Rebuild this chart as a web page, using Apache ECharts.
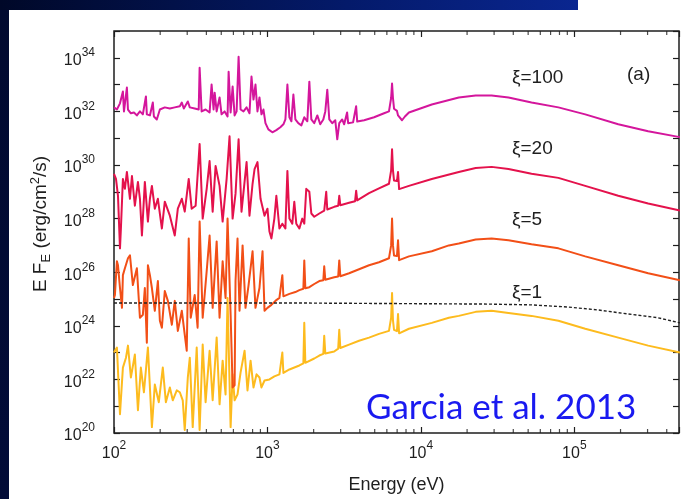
<!DOCTYPE html>
<html><head><meta charset="utf-8">
<script src="https://cdn.jsdelivr.net/npm/echarts@6/dist/echarts.min.js"></script>
<style>html,body{margin:0;padding:0;background:#fff}#c{width:682px;height:499px}</style>
</head><body><div id="c"></div>
<script>
// All values are log10: x = log10(Energy / eV), y = log10(E F_E / erg cm^-2 s^-1)
const xRange = [2, 5.682];
const yRange = [20, 35];
const minorMultipliers = [2, 3, 4, 5, 6, 7, 8, 9];
const xDecades = [2, 3, 4, 5];
const seriesNames = ['ξ=1', 'ξ=5', 'ξ=20', 'ξ=100'];

const xi100 = [[2.000,32.15],[2.019,32.07],[2.039,32.30],[2.058,32.74],[2.065,32.00],[2.084,32.89],[2.091,32.07],[2.110,31.93],[2.130,31.96],[2.149,31.85],[2.169,32.00],[2.188,31.89],[2.208,32.56],[2.214,31.89],[2.234,31.85],[2.253,32.33],[2.260,31.81],[2.279,31.70],[2.299,32.07],[2.331,32.15],[2.364,32.11],[2.396,32.15],[2.429,32.19],[2.442,32.33],[2.455,32.11],[2.481,32.37],[2.494,32.15],[2.526,32.11],[2.552,32.07],[2.558,33.63],[2.571,32.00],[2.597,32.07],[2.623,31.96],[2.636,33.00],[2.649,32.07],[2.656,32.70],[2.669,32.00],[2.688,32.52],[2.701,31.89],[2.721,32.00],[2.740,31.81],[2.747,33.48],[2.760,31.96],[2.773,32.93],[2.786,31.85],[2.799,32.00],[2.812,34.04],[2.825,32.07],[2.844,32.00],[2.864,32.15],[2.883,31.93],[2.896,33.30],[2.909,32.44],[2.922,33.00],[2.935,32.00],[2.948,32.52],[2.961,31.89],[2.974,32.07],[2.987,31.56],[3.006,31.33],[3.032,31.22],[3.058,31.30],[3.084,31.41],[3.104,31.52],[3.117,31.70],[3.130,33.00],[3.143,31.78],[3.156,31.63],[3.169,32.63],[3.182,31.70],[3.201,31.56],[3.221,31.48],[3.240,31.78],[3.260,31.63],[3.273,33.11],[3.286,31.70],[3.305,31.56],[3.325,31.85],[3.344,31.52],[3.364,31.70],[3.377,32.00],[3.390,32.81],[3.403,31.70],[3.422,31.56],[3.442,31.67],[3.455,30.96],[3.468,31.56],[3.487,31.70],[3.500,31.52],[3.513,31.55],[3.519,31.96],[3.526,31.56],[3.558,31.59],[3.571,31.61],[3.578,32.19],[3.585,31.62],[3.630,31.67],[3.695,31.78],[3.760,31.93],[3.792,32.00],[3.800,32.05],[3.806,32.50],[3.812,33.04],[3.818,32.50],[3.825,32.10],[3.844,32.02],[3.851,31.85],[3.877,31.67],[3.896,31.81],[3.922,31.96],[4.071,32.26],[4.247,32.52],[4.357,32.59],[4.461,32.59],[4.571,32.52],[4.721,32.33],[4.896,32.15],[5.071,31.89],[5.286,31.52],[5.481,31.26],[5.688,31.04]];

const xi20 = [[2.000,29.67],[2.013,29.48],[2.026,28.85],[2.039,26.89],[2.045,27.63],[2.058,29.48],[2.071,29.11],[2.084,29.74],[2.104,28.74],[2.117,29.59],[2.136,28.48],[2.156,29.37],[2.169,28.74],[2.182,27.37],[2.201,29.37],[2.221,27.89],[2.234,28.74],[2.247,29.22],[2.266,28.37],[2.286,28.74],[2.312,27.63],[2.331,28.63],[2.364,28.11],[2.396,27.37],[2.416,28.37],[2.442,28.74],[2.461,28.26],[2.487,29.48],[2.506,28.37],[2.532,28.48],[2.558,30.78],[2.578,28.00],[2.604,29.11],[2.623,30.15],[2.643,28.26],[2.662,29.96],[2.688,29.22],[2.708,27.89],[2.734,29.48],[2.753,31.07],[2.773,28.00],[2.792,28.93],[2.812,30.96],[2.831,28.26],[2.864,30.11],[2.883,28.11],[2.903,29.30],[2.916,29.85],[2.935,30.11],[2.955,28.74],[2.981,28.11],[3.000,28.37],[3.013,27.52],[3.026,27.26],[3.045,28.00],[3.058,28.85],[3.078,27.63],[3.097,27.81],[3.117,27.63],[3.130,29.78],[3.143,28.00],[3.162,27.81],[3.175,28.63],[3.188,27.81],[3.208,27.63],[3.227,28.00],[3.240,27.81],[3.253,29.11],[3.273,29.00],[3.286,28.19],[3.305,28.07],[3.318,28.11],[3.338,28.19],[3.370,28.30],[3.377,28.32],[3.383,29.00],[3.390,28.34],[3.435,28.44],[3.461,28.48],[3.468,28.85],[3.475,28.50],[3.532,28.59],[3.571,28.65],[3.578,29.04],[3.585,28.68],[3.662,28.95],[3.727,29.13],[3.792,29.30],[3.800,29.35],[3.806,29.80],[3.812,30.59],[3.818,29.80],[3.825,29.42],[3.844,29.40],[3.851,29.74],[3.858,29.10],[3.870,29.04],[3.922,29.22],[4.071,29.48],[4.247,29.74],[4.357,29.89],[4.461,29.93],[4.571,29.85],[4.721,29.67],[4.896,29.52],[5.071,29.22],[5.286,28.85],[5.481,28.56],[5.688,28.30]];

const xi5 = [[2.000,25.04],[2.006,25.15],[2.019,26.41],[2.026,26.26],[2.039,25.41],[2.052,24.67],[2.058,25.89],[2.071,26.15],[2.091,26.52],[2.104,26.63],[2.123,25.52],[2.149,26.15],[2.169,24.30],[2.188,24.41],[2.201,25.41],[2.214,23.37],[2.221,26.26],[2.234,25.89],[2.247,25.41],[2.266,24.56],[2.286,25.67],[2.299,24.19],[2.312,23.93],[2.331,25.30],[2.351,24.93],[2.377,24.04],[2.396,24.93],[2.416,23.81],[2.442,24.56],[2.461,23.67],[2.474,23.07],[2.487,27.26],[2.500,24.30],[2.526,25.15],[2.545,23.93],[2.558,27.89],[2.578,24.30],[2.604,26.04],[2.623,27.37],[2.643,24.67],[2.669,27.15],[2.688,24.30],[2.708,26.41],[2.727,25.04],[2.740,28.00],[2.760,24.41],[2.773,21.70],[2.786,21.78],[2.792,25.67],[2.805,27.26],[2.818,24.56],[2.838,27.00],[2.857,24.67],[2.877,25.52],[2.903,26.78],[2.922,24.67],[2.948,25.41],[2.968,26.78],[2.981,24.56],[3.000,24.67],[3.026,24.78],[3.058,24.96],[3.078,25.04],[3.091,25.08],[3.097,25.89],[3.104,25.10],[3.143,25.19],[3.182,25.26],[3.208,25.33],[3.234,25.38],[3.240,26.44],[3.247,25.40],[3.273,25.44],[3.305,25.56],[3.338,25.67],[3.364,25.70],[3.370,26.22],[3.377,25.72],[3.435,25.81],[3.461,25.84],[3.468,26.44],[3.475,25.85],[3.532,25.96],[3.597,26.11],[3.662,26.26],[3.727,26.37],[3.792,26.52],[3.800,26.56],[3.806,27.00],[3.812,28.00],[3.818,27.00],[3.825,26.62],[3.844,26.60],[3.851,27.19],[3.858,26.45],[3.870,26.44],[3.922,26.59],[4.071,26.78],[4.182,27.00],[4.247,27.07],[4.357,27.22],[4.461,27.26],[4.571,27.19],[4.721,27.04],[4.896,26.89],[5.071,26.59],[5.286,26.26],[5.481,25.96],[5.688,25.70]];

const xi1 = [[2.000,23.00],[2.019,23.19],[2.039,20.70],[2.058,22.44],[2.078,22.81],[2.091,23.26],[2.110,22.07],[2.136,22.93],[2.156,20.85],[2.175,22.44],[2.195,21.52],[2.221,23.19],[2.247,20.22],[2.266,21.81],[2.292,21.15],[2.318,22.44],[2.338,21.15],[2.364,21.70],[2.383,21.22],[2.409,21.59],[2.429,21.52],[2.448,21.22],[2.461,20.11],[2.481,22.07],[2.494,22.81],[2.513,20.22],[2.539,23.19],[2.558,20.11],[2.578,23.30],[2.597,21.15],[2.623,23.07],[2.643,21.22],[2.669,23.56],[2.688,21.07],[2.708,22.70],[2.727,21.44],[2.740,25.04],[2.760,20.22],[2.773,22.19],[2.786,21.22],[2.805,21.44],[2.825,22.26],[2.851,23.07],[2.870,21.59],[2.890,22.70],[2.909,21.70],[2.929,22.19],[2.948,22.07],[2.961,21.70],[2.981,21.96],[3.013,22.00],[3.045,22.11],[3.078,22.19],[3.091,22.22],[3.097,23.00],[3.104,22.24],[3.143,22.37],[3.208,22.52],[3.234,22.60],[3.240,24.11],[3.247,22.62],[3.305,22.78],[3.338,22.89],[3.364,22.95],[3.370,23.63],[3.377,22.97],[3.435,23.04],[3.461,23.15],[3.468,23.85],[3.475,23.17],[3.532,23.30],[3.597,23.44],[3.662,23.56],[3.727,23.70],[3.792,23.81],[3.800,23.85],[3.806,24.30],[3.812,25.22],[3.818,24.20],[3.825,23.85],[3.844,23.80],[3.851,24.44],[3.858,23.72],[3.870,23.74],[3.922,23.89],[4.071,24.11],[4.182,24.30],[4.247,24.37],[4.357,24.52],[4.461,24.56],[4.571,24.48],[4.721,24.37],[4.896,24.19],[5.071,23.89],[5.286,23.56],[5.481,23.26],[5.688,23.00]];

const illumination = [[2.000,24.85],[3.208,24.85],[4.442,24.81],[4.721,24.78],[4.961,24.70],[5.156,24.59],[5.351,24.44],[5.545,24.30],[5.688,24.11]];

const minorTicks = [];
xDecades.forEach(d => minorMultipliers.forEach(m => {
  const v = d + Math.log10(m);
  if (v < xRange[1]) minorTicks.push(v);
}));

const FONT = '"Liberation Sans", Arial, Helvetica, sans-serif';
const INK = '#1e1e1e';
const richPow = {
  b: {fontSize: 16, fontFamily: FONT, color: INK, lineHeight: 22, verticalAlign: 'bottom'},
  s: {fontSize: 12, fontFamily: FONT, color: INK, lineHeight: 12, verticalAlign: 'top'}
};

const chart = echarts.init(document.getElementById('c'), null, {renderer: 'canvas'});

function spec(data, color, z) {
  return {type: 'line', data: data, symbol: 'none', showSymbol: false, silent: true,
    lineStyle: {color: color, width: 2, join: 'round'}, z: z, animation: false};
}

const tickStyle = {inside: true, length: 6, lineStyle: {color: INK, width: 1.2}};

chart.setOption({
  backgroundColor: '#ffffff',
  animation: false,
  grid: {left: 114, right: 1, top: 31, bottom: 63, show: true, borderColor: INK, borderWidth: 1.5, backgroundColor: 'transparent'},
  xAxis: [
    {type: 'value', min: xRange[0], max: xRange[1], interval: 1, position: 'bottom',
      axisLine: {show: false}, splitLine: {show: false}, axisTick: tickStyle,
      axisLabel: {margin: 7, formatter: v => Number.isInteger(v) ? '{b|10}{s|' + v + '}' : '', rich: richPow},
      name: 'Energy (eV)', nameLocation: 'middle', nameGap: 43,
      nameTextStyle: {fontSize: 18, fontFamily: FONT, color: INK}},
    {type: 'value', min: xRange[0], max: xRange[1], interval: 1, position: 'top',
      axisLine: {show: false}, splitLine: {show: false}, axisTick: tickStyle, axisLabel: {show: false}}
  ],
  yAxis: [
    {type: 'value', min: yRange[0], max: yRange[1], interval: 1, position: 'left',
      axisLine: {show: false}, splitLine: {show: false}, axisTick: tickStyle,
      axisLabel: {margin: 19, formatter: v => (v % 2 === 0 && v < 35) ? '{b|10}{s|' + v + '}' : '', rich: richPow},
      name: '{n|E F}{sb|E}{n| (erg/cm}{sp|2}{n|/s)}', nameLocation: 'middle', nameGap: 50,
      nameTextStyle: {padding: [0, 0, 0, 16], rich: {
        n: {fontSize: 19, fontFamily: FONT, color: INK, lineHeight: 24, verticalAlign: 'middle'},
        sb: {fontSize: 13, fontFamily: FONT, color: INK, lineHeight: 24, verticalAlign: 'bottom'},
        sp: {fontSize: 13, fontFamily: FONT, color: INK, lineHeight: 13, verticalAlign: 'top'}
      }}},
    {type: 'value', min: yRange[0], max: yRange[1], interval: 1, position: 'right',
      axisLine: {show: false}, splitLine: {show: false}, axisTick: tickStyle, axisLabel: {show: false}}
  ],
  series: [
    spec(xi1, '#fdbb1e', 2),
    spec(xi5, '#f24f17', 3),
    spec(xi20, '#e4124c', 4),
    spec(xi100, '#d4169c', 5),
    {type: 'line', data: illumination, symbol: 'none', silent: true, z: 6,
      lineStyle: {color: '#222', width: 1.4, type: [3, 2]}},
    {type: 'scatter', data: minorTicks.map(v => [v, yRange[0]]), symbol: 'rect', symbolSize: [1.2, 4],
      symbolOffset: [0, -2], itemStyle: {color: INK}, silent: true, clip: false, z: 7},
    {type: 'scatter', data: minorTicks.map(v => [v, yRange[1]]), symbol: 'rect', symbolSize: [1.2, 4],
      symbolOffset: [0, 2], itemStyle: {color: INK}, silent: true, clip: false, z: 7}
  ],
  graphic: [
    {type: 'rect', shape: {x: 0, y: 0, width: 9, height: 499}, silent: true, z: 100,
      style: {fill: new echarts.graphic.LinearGradient(0, 0, 0, 1, [{offset: 0, color: '#010a30'}, {offset: 1, color: '#020c38'}])}},
    {type: 'rect', shape: {x: 0, y: 0, width: 578, height: 10}, silent: true, z: 100,
      style: {fill: new echarts.graphic.LinearGradient(0, 0, 1, 0, [{offset: 0, color: '#000828'}, {offset: 0.6, color: '#041a6a'}, {offset: 1, color: '#0a2690'}])}},
    {type: 'text', left: 512, top: 68, z: 50, style: {text: seriesNames[3], font: '19px ' + FONT, fill: INK}},
    {type: 'text', left: 512, top: 139, z: 50, style: {text: seriesNames[2], font: '19px ' + FONT, fill: INK}},
    {type: 'text', left: 512, top: 210, z: 50, style: {text: seriesNames[1], font: '19px ' + FONT, fill: INK}},
    {type: 'text', left: 512, top: 283, z: 50, style: {text: seriesNames[0], font: '19px ' + FONT, fill: INK}},
    {type: 'text', left: 627, top: 65, z: 50, style: {text: '(a)', font: '19px ' + FONT, fill: INK}},
    {type: 'text', left: 366, top: 390, z: 50, style: {text: 'Garcia et al. 2013', font: '35px Lato, "Open Sans", sans-serif', fill: '#1a1af0'}}
  ]
});
</script></body></html>
